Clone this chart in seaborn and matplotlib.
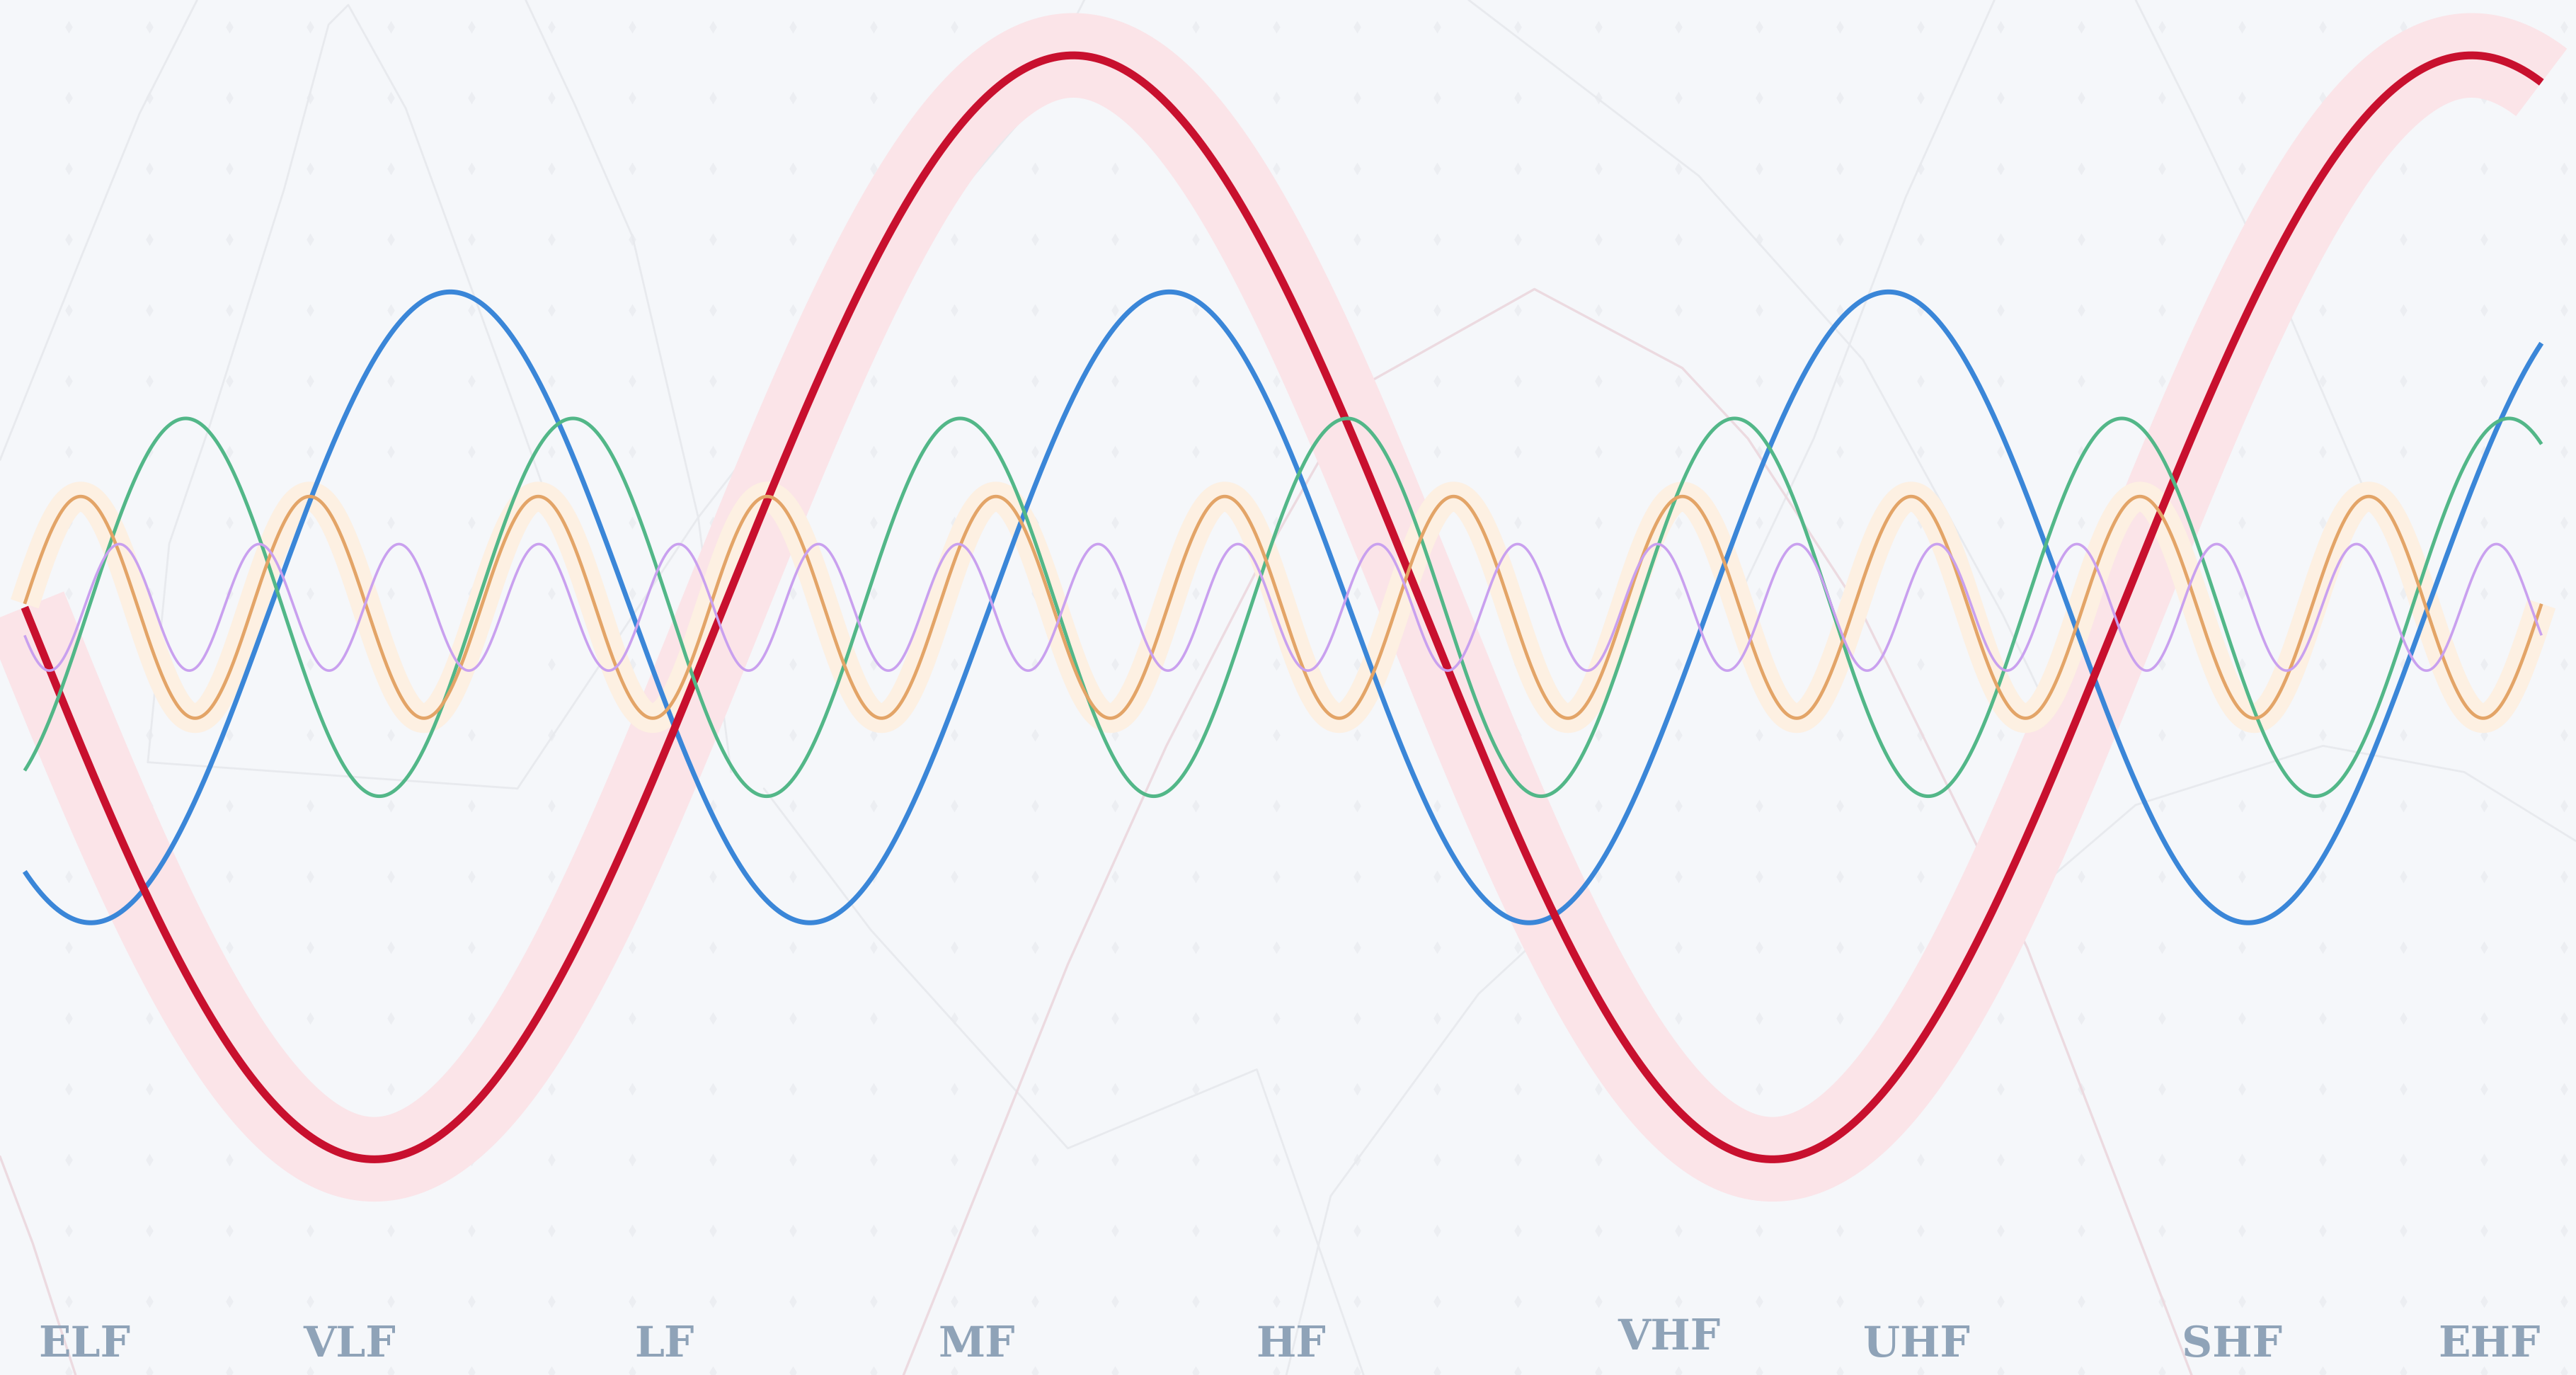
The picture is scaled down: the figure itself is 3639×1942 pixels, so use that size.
import numpy as np
import pandas as pd
import matplotlib
matplotlib.use("Agg")
import matplotlib.pyplot as plt
import seaborn as sns

# frame: x in px of a 1568-wide frame, y = offset from the centre line (up is +)
FRAME_W, FRAME_H = 1568, 837
CENTER = 369.7
X_START, X_END = 15, 1547

# the five carrier waves (cycles across the frame, amplitude, phase of first peak)
wave_names = ["red", "blue", "green", "orange", "purple"]
wave_cycles = [1.8, 3.5, 6.5, 11.0, 18.0]
wave_amps = [336, 192, 115, 67.5, 38.5]
wave_peak_phase = [0.75, 0.592, 0.416, 0.245, 0.677]

# band labels along the bottom
band_labels = ["ELF", "VLF", "LF", "MF", "HF", "VHF", "UHF", "SHF", "EHF"]
band_x = [51.3, 212.9, 404.2, 594.6, 785.9, 1016.0, 1166.8, 1358.6, 1515.0]
band_y = [-455.9, -455.9, -455.9, -455.9, -455.9, -451.6, -455.9, -455.9, -455.9]

# faint background traces (x, screen y)
gray_traces = [
    [(0, 280), (50, 155), (85, 69), (120, 0)],
    [(90, 464), (103, 331), (128, 258), (173, 115), (200, 15), (212, 3), (247, 66), (317, 258), (360, 380)],
    [(90, 464), (315, 480), (425, 315), (530, 180), (625, 69), (660, 0)],
    [(320, 0), (350, 64), (385, 144), (425, 315), (445, 470)],
    [(465, 480), (530, 566), (650, 699), (765, 651), (830, 837)],
    [(894, 0), (1034, 107), (1134, 219), (1219, 374), (1270, 480)],
    [(1214, 0), (1160, 120), (1104, 267), (1060, 360)],
    [(1300, 0), (1335, 70), (1395, 195), (1440, 300)],
    [(1180, 600), (1224, 555), (1300, 490), (1414, 454), (1500, 470), (1568, 512)],
    [(783, 837), (810, 728), (900, 605), (965, 545)],
]
pink_traces = [
    [(550, 837), (650, 587), (710, 454), (765, 347), (829, 235), (934, 176), (1024, 224),
     (1064, 267), (1134, 374), (1234, 577), (1334, 837)],
    [(0, 704), (20, 757), (46, 837)],
]

colors = {"red": "#c8102e", "blue": "#3a86d8", "green": "#52b788",
          "orange": "#e3a467", "purple": "#c9a0ef"}
widths = {"red": 8.0, "blue": 5.0, "green": 3.6, "orange": 3.4, "purple": 2.6}
glows = {"red": ("#fbe4e8", 86), "orange": ("#fdf0e2", 30)}
BG = "#f5f7fa"

sns.set_theme(style="white")

x = np.linspace(X_START, X_END, 3000)
t = (x - X_START) / (X_END - X_START)
rows = []
for name, cyc, amp, ph in zip(wave_names, wave_cycles, wave_amps, wave_peak_phase):
    y = amp * np.cos(2 * np.pi * (cyc * t - ph))
    rows.append(pd.DataFrame({"x": x, "y": y, "wave": name}))
df = pd.concat(rows, ignore_index=True)

fig = plt.figure(figsize=(36.39, 19.42), dpi=100, facecolor=BG)
ax = fig.add_axes([0, 0, 1, 1])
ax.set_facecolor(BG)

# dotted grid
gx, gy = np.meshgrid(np.arange(41.8, FRAME_W, 49.0), np.arange(16.4, FRAME_H, 43.1))
ax.scatter(gx.ravel(), CENTER - gy.ravel(), marker="d", s=80, color="#eceef2",
           linewidths=0, zorder=0)

for tr in gray_traces:
    tx, ty = zip(*tr)
    ax.plot(tx, CENTER - np.array(ty), color="#e8eaee", lw=2.0, zorder=1,
            solid_joinstyle="round")
for tr in pink_traces:
    tx, ty = zip(*tr)
    ax.plot(tx, CENTER - np.array(ty), color="#ecdae0", lw=2.4, zorder=1,
            solid_joinstyle="round")

# glows
for name, (gc, gw) in glows.items():
    sub = df[df["wave"] == name]
    sns.lineplot(data=sub, x="x", y="y", ax=ax, color=gc, lw=gw, sort=False,
                 estimator=None, legend=False, zorder=2,
                 solid_capstyle="butt", solid_joinstyle="round")

order = ["blue", "red", "green", "orange", "purple"]
for i, name in enumerate(order):
    sub = df[df["wave"] == name]
    sns.lineplot(data=sub, x="x", y="y", ax=ax, color=colors[name], lw=widths[name],
                 sort=False, estimator=None, legend=False, zorder=3 + i,
                 solid_capstyle="butt")

for lab, bx, by in zip(band_labels, band_x, band_y):
    ax.text(bx, by, lab, ha="center", va="baseline", fontsize=43,
            fontweight="bold", family="DejaVu Serif", color="#8fa3b8", zorder=10)

ax.set_xlim(0, FRAME_W)
ax.set_ylim(CENTER - FRAME_H, CENTER)
ax.set_xlabel("")
ax.set_ylabel("")
ax.axis("off")

fig.savefig("out.png", dpi=100, facecolor=BG)
